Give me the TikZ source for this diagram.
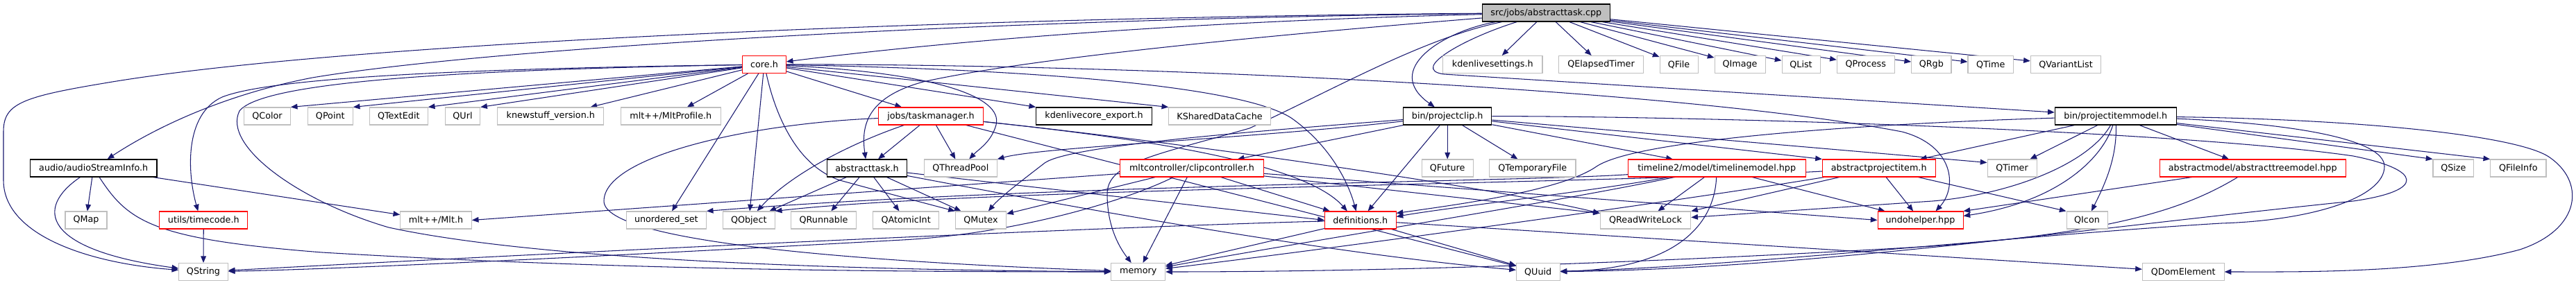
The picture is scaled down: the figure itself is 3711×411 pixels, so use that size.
\documentclass[tikz,border=0pt]{standalone}
\usepackage{fontspec}
\setmainfont{DejaVu Sans}
\usetikzlibrary{arrows.meta,calc}
\definecolor{gsev}{HTML}{BFBFBF}
\definecolor{mblue}{HTML}{191970}
\definecolor{tred}{HTML}{FF0000}
\pgfdeclarelayer{bg}
\pgfsetlayers{bg,main}
\begin{document}
\begin{tikzpicture}[x=0.02cm,y=-0.02cm,
  box/.style={rectangle,minimum height=0.5cm,inner sep=0pt,font=\fontsize{7.25}{8.7}\selectfont,fill=white},
  nw/.style={minimum width=#1*0.02cm},
  ext/.style={box,draw=gsev,line width=0.6pt},
  trunc/.style={box,draw=tred,line width=0.6pt},
  doc/.style={box,draw=black,line width=0.7pt},
  rootn/.style={box,draw=black,fill=gsev,line width=0.7pt},
  dep/.style={draw=mblue,line width=0.6pt,-{Triangle[length=5.5pt,width=4.4pt]}}]
\useasboundingbox (0,0) rectangle (3711,411);
% row 0
\node[rootn,nw=184] (root) at (2227.3,18.5) {src/jobs/abstracttask.cpp};
% row 1
\node[trunc,nw=62.6] (core) at (1101,93) {core.h};
\node[ext,nw=143.3] (kdset) at (2150.3,93) {kdenlivesettings.h};
\node[ext,nw=121.6] (qelapsed) at (2306.5,93) {QElapsedTimer};
\node[ext,nw=55] (qfile) at (2418.5,93) {QFile};
\node[ext,nw=73] (qimage) at (2506.5,93) {QImage};
\node[ext,nw=55] (qlist) at (2594.5,93) {QList};
\node[ext,nw=83] (qprocess) at (2687.8,93) {QProcess};
\node[ext,nw=57.3] (qrgb) at (2782.3,93) {QRgb};
\node[ext,nw=65.7] (qtime) at (2867.8,93) {QTime};
\node[ext,nw=101.4] (qvlist) at (2976,93) {QVariantList};
% row 2
\node[ext,nw=66.6] (qcolor) at (385,167.5) {QColor};
\node[ext,nw=65] (qpoint) at (475.8,167.5) {QPoint};
\node[ext,nw=84] (qtextedit) at (574.3,167.5) {QTextEdit};
\node[ext,nw=50.4] (qurl) at (666.5,167.5) {QUrl};
\node[ext,nw=153.3] (knews) at (793.3,167.5) {knewstuff\_version.h};
\node[ext,nw=144] (mltprofile) at (966.3,167.5) {mlt++/MltProfile.h};
\node[trunc,nw=150.6] (taskmgr) at (1341,167.5) {jobs/taskmanager.h};
\node[doc,nw=166.6] (kexport) at (1576,167.5) {kdenlivecore\_export.h};
\node[ext,nw=146.6] (kshared) at (1757,167.5) {KSharedDataCache};
\node[doc,nw=127] (projclip) at (2085.2,167.5) {bin/projectclip.h};
\node[doc,nw=175] (pim) at (3047.8,167.5) {bin/projectitemmodel.h};
% row 3
\node[doc,nw=182.7] (audio) at (134.7,242.5) {audio/audioStreamInfo.h};
\node[doc,nw=114.6] (atask) at (1249,242.5) {abstracttask.h};
\node[ext,nw=105] (qthreadpool) at (1383.8,242.5) {QThreadPool};
\node[trunc,nw=206.6] (clipctrl) at (1717,242.5) {mltcontroller/clipcontroller.h};
\node[ext,nw=73.7] (qfuture) at (2085.2,242.5) {QFuture};
\node[ext,nw=124.3] (qtempfile) at (2207.8,242.5) {QTemporaryFile};
\node[trunc,nw=255.7] (tlmodel) at (2473.2,242.5) {timeline2/model/timelinemodel.hpp};
\node[trunc,nw=162.7] (apitem) at (2706.7,242.5) {abstractprojectitem.h};
\node[ext,nw=71] (qtimer) at (2898.5,242.5) {QTimer};
\node[trunc,nw=268.3] (atreemodel) at (3245.2,242.5) {abstractmodel/abstracttreemodel.hpp};
\node[ext,nw=58.7] (qsize) at (3534.3,242.5) {QSize};
\node[ext,nw=80.3] (qfileinfo) at (3627.8,242.5) {QFileInfo};
% row 4
\node[ext,nw=60] (qmap) at (124,317.5) {QMap};
\node[trunc,nw=126.7] (timecode) at (293.3,317.5) {utils/timecode.h};
\node[ext,nw=102.6] (mlth) at (628,317.5) {mlt++/Mlt.h};
\node[ext,nw=115] (uset) at (959.8,317.5) {unordered\_set};
\node[ext,nw=75] (qobject) at (1078.8,317.5) {QObject};
\node[ext,nw=93.6] (qrunnable) at (1186.5,317.5) {QRunnable};
\node[ext,nw=95] (qatomic) at (1305.2,317.5) {QAtomicInt};
\node[ext,nw=73.4] (qmutex) at (1413,317.5) {QMutex};
\node[trunc,nw=102.7] (defs) at (1959.7,317.5) {definitions.h};
\node[ext,nw=130.4] (qrwlock) at (2370.5,317.5) {QReadWriteLock};
\node[trunc,nw=123] (undo) at (2766.5,317.5) {undohelper.hpp};
\node[ext,nw=59] (qicon) at (3006.5,317.5) {QIcon};
% row 5
\node[ext,nw=70.6] (qstring) at (293,392) {QString};
\node[ext,nw=77.7] (memory) at (1639.8,392) {memory};
\node[ext,nw=62.7] (quuid) at (2215.7,392) {QUuid};
\node[ext,nw=117.7] (qdom) at (3145.2,392) {QDomElement};

\begin{pgfonlayer}{bg}
% root
\draw[dep] (root) -- (kdset);
\draw[dep] (root) -- (qelapsed);
\draw[dep] (root) -- (qfile);
\draw[dep] (root) -- (qimage);
\draw[dep] (root) -- (qlist);
\draw[dep] (root) -- (qprocess);
\draw[dep] (root) -- (qrgb);
\draw[dep] (root) -- (qtime);
\draw[dep] (root) -- (qvlist);
\draw[dep] (root) .. controls (1750,30) and (1400,55) .. (core);
\draw[dep] (root) .. controls (1900,45) and (1500,80) .. (1330,118) .. controls (1250,140) and (1240,180) .. (atask);
\draw[dep] (root) .. controls (1400,25) and (500,60) .. (150,120) .. controls (30,140) and (5,150) .. (5,190) -- (5,260) .. controls (5,340) and (130,380) .. (qstring);
\draw[dep] (root) .. controls (1400,28) and (700,70) .. (450,112) .. controls (330,135) and (230,180) .. (audio);
\draw[dep] (root) .. controls (2080,45) and (1990,100) .. (projclip);
\draw[dep] (root) .. controls (2110,55) and (2030,100) .. (2080,107) -- (pim);
\draw[dep] (root) .. controls (2050,55) and (1920,130) .. (1800,185) .. controls (1660,225) and (1595,235) .. (1595,280) .. controls (1595,330) and (1615,360) .. (memory);
% core
\draw[dep] (core) -- (qcolor.north east);
\draw[dep] (core) -- (qpoint.north east);
\draw[dep] (core) -- (qtextedit.north east);
\draw[dep] (core) -- (qurl.north east);
\draw[dep] (core) -- ($(knews.north east)+(-20,0)$);
\draw[dep] (core) -- (mltprofile);
\draw[dep] (core) -- (taskmgr);
\draw[dep] (core) -- (kexport.north west);
\draw[dep] (core) -- (kshared.north west);
\draw[dep] (core) .. controls (1350,105) and (1445,140) .. (1435,180) .. controls (1428,205) and (1410,215) .. (qthreadpool);
\draw[dep] (core) .. controls (1600,92) and (2400,125) .. (2740,190) .. controls (2815,210) and (2820,270) .. ($(undo.north east)+(-40,0)$);
\draw[dep] (core) .. controls (1500,100) and (1790,125) .. (1860,170) .. controls (1910,205) and (1940,255) .. ($(defs.north)+(-6,0)$);
\draw[dep] (core) .. controls (750,98) and (400,108) .. (320,140) .. controls (265,165) and (270,250) .. ($(timecode.north)+(-8,0)$);
\draw[dep] (core) .. controls (700,100) and (380,115) .. (345,160) .. controls (320,210) and (430,290) .. (560,328) .. controls (800,380) and (1300,390) .. (memory);
\draw[dep] (core) -- (uset);
\draw[dep] (core) -- (qobject);
\draw[dep] (core) .. controls (1118,170) and (1150,240) .. (1210,260) .. controls (1290,282) and (1340,295) .. (qmutex.north west);
% taskmanager
\draw[dep] (taskmgr) -- (atask);
\draw[dep] (taskmgr) -- (qthreadpool);
\draw[dep] (taskmgr) .. controls (1230,205) and (1140,250) .. (qobject);
\draw[dep] (taskmgr) .. controls (1080,178) and (870,225) .. (870,290) .. controls (870,350) and (1250,378) .. (memory);
\draw[dep] (taskmgr) .. controls (1650,200) and (1880,235) .. ($(defs.north west)+(33,0)$);
\draw[dep] (taskmgr) .. controls (1700,205) and (2150,270) .. ($(qrwlock.north west)+(0,3)$);
\draw[dep] (taskmgr) -- (quuid);
% abstracttask.h
\draw[dep] (atask) -- (qobject);
\draw[dep] (atask) -- (qrunnable);
\draw[dep] (atask) -- (qatomic);
\draw[dep] (atask) -- (qmutex);
\draw[dep] (atask) -- (defs.west);
\draw[dep] (atask) .. controls (1500,290) and (1900,365) .. (quuid);
% audio
\draw[dep] (audio) -- (qmap);
\draw[dep] (audio) -- (mlth);
\draw[dep] (audio) .. controls (50,300) and (60,360) .. (qstring);
\draw[dep] (audio) .. controls (185,320) and (220,345) .. (464,364) .. controls (900,390) and (1300,392) .. (memory);
% timecode
\draw[dep] (timecode) -- (qstring);
% projectclip
\draw[dep] (projclip) -- (qfuture);
\draw[dep] (projclip) -- (qtempfile);
\draw[dep] (projclip) -- (defs);
\draw[dep] (projclip) -- ($(tlmodel.north west)+(65,0)$);
\draw[dep] (projclip) -- (apitem.north west);
\draw[dep] (projclip) -- ($(qtimer.north west)+(0,5)$);
\draw[dep] (projclip) -- ($(clipctrl.north east)+(-38,0)$);
\draw[dep] (projclip) .. controls (1800,190) and (1540,210) .. (1505,235) .. controls (1470,262) and (1440,285) .. (qmutex);
\draw[dep] (projclip) .. controls (1800,200) and (1500,212) .. (qthreadpool.north east);
\draw[dep] (projclip) .. controls (2500,168) and (3150,190) .. (3390,225) .. controls (3490,245) and (3495,275) .. (3390,290) .. controls (3000,330) and (2600,388) .. (quuid);
% clipcontroller
\draw[dep] ($(clipctrl.west)+(0,8)$) -- (mlth.east);
\draw[dep] (clipctrl) -- (qmutex);
\draw[dep] (clipctrl) .. controls (1610,295) and (1450,338) .. (1300,346) .. controls (900,368) and (500,388) .. (qstring);
\draw[dep] (clipctrl) -- (memory);
\draw[dep] (clipctrl) -- ($(defs.north west)+(8,0)$);
\draw[dep] (clipctrl) -- (undo.west);
\draw[dep] (clipctrl) -- ($(qrwlock.north west)+(0,3)$);
% timelinemodel
\draw[dep] (tlmodel) .. controls (2200,262) and (1500,266) .. (uset.north east);
\draw[dep] (tlmodel) .. controls (2300,275) and (2080,300) .. ($(defs.east)+(0,-5)$);
\draw[dep] (tlmodel) .. controls (2250,290) and (1900,345) .. (memory);
\draw[dep] (tlmodel) -- (qrwlock);
\draw[dep] (tlmodel) .. controls (2470,320) and (2420,388) .. (quuid);
\draw[dep] (tlmodel) -- (undo);
% abstractprojectitem
\draw[dep] (apitem) .. controls (2300,265) and (1400,272) .. (qobject.north east);
\draw[dep] (apitem) -- (qrwlock.north east);
\draw[dep] (apitem) -- (undo);
\draw[dep] (apitem) -- (qicon.north west);
\draw[dep] (apitem) .. controls (2450,285) and (1950,355) .. (memory);
% abstracttreemodel
\draw[dep] (atreemodel) -- (undo.north east);
\draw[dep] (atreemodel) .. controls (3150,300) and (3050,335) .. (2784,355) .. controls (2400,378) and (2000,392) .. (memory);
% projectitemmodel
\draw[dep] (pim) -- (apitem);
\draw[dep] (pim) -- (qtimer);
\draw[dep] (pim) .. controls (3050,230) and (3030,270) .. (qicon);
\draw[dep] (pim) .. controls (3030,225) and (2970,290) .. ($(undo.east)+(0,-6)$);
\draw[dep] (pim) .. controls (3010,235) and (2900,280) .. (2784,290) -- ($(qrwlock.east)+(0,-4)$);
\draw[dep] (pim) -- (atreemodel);
\draw[dep] (pim) -- (qsize.north west);
\draw[dep] (pim) -- (qfileinfo.north west);
\draw[dep] (pim) .. controls (3400,172) and (3620,195) .. (3670,225) .. controls (3725,260) and (3720,330) .. (3630,360) .. controls (3500,395) and (3300,392) .. (qdom);
\draw[dep] (pim) .. controls (3300,178) and (3435,200) .. (3435,240) .. controls (3435,285) and (3330,318) .. (3200,322) .. controls (2900,340) and (2500,385) .. (quuid);
\draw[dep] (pim) .. controls (2700,178) and (2360,200) .. (2300,240) .. controls (2250,275) and (2100,295) .. ($(defs.north east)+(0,3)$);
% definitions
\draw[dep] (defs) .. controls (1500,330) and (700,370) .. (qstring);
\draw[dep] (defs) -- (memory);
\draw[dep] (defs) -- (quuid);
\draw[dep] (defs) -- (qdom);
\end{pgfonlayer}
\end{tikzpicture}
\end{document}
